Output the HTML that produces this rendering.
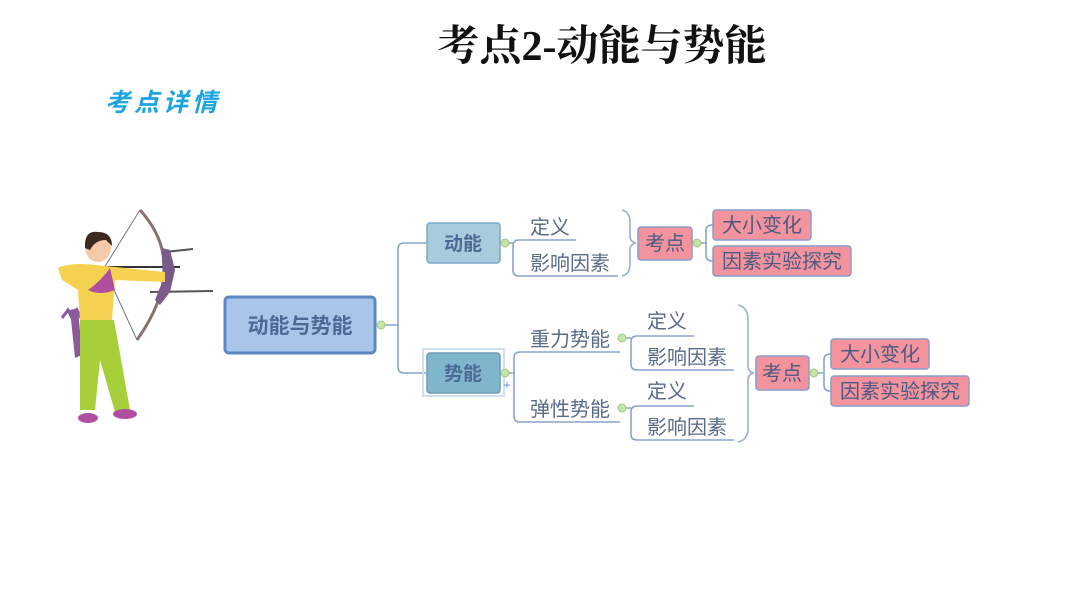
<!DOCTYPE html>
<html><head><meta charset="utf-8"><style>
html,body{margin:0;padding:0;background:#fff;}
svg text{font-family:"Liberation Sans","Noto Sans CJK SC",sans-serif;}
</style></head><body>
<svg width="1066" height="600" viewBox="0 0 1066 600" xmlns="http://www.w3.org/2000/svg">
<rect width="1066" height="600" fill="#fff"/>
<text x="602" y="60" text-anchor="middle" font-size="42" font-weight="bold" fill="#111" style="font-family:'Liberation Serif','Noto Serif CJK SC',serif">考点2-动能与势能</text>
<text x="105" y="111" font-size="25" font-weight="bold" fill="#1ba3e2" font-style="italic" letter-spacing="4">考点详情</text>

<!-- archer -->
<g>
<path d="M140,210 Q190,265 137,340" fill="none" stroke="#8a7070" stroke-width="3"/>
<line x1="140" y1="210" x2="104" y2="268" stroke="#777" stroke-width="1"/>
<line x1="104" y1="268" x2="137" y2="340" stroke="#777" stroke-width="1"/>
<line x1="100" y1="267" x2="180" y2="267" stroke="#333" stroke-width="2"/>
<line x1="165" y1="252" x2="193" y2="249" stroke="#555" stroke-width="2"/>
<line x1="150" y1="292" x2="213" y2="291" stroke="#555" stroke-width="2"/>
<path d="M162,248 L170,250 L175,270 L170,292 L160,305 L155,300 L163,280 L162,260Z" fill="#7a5a8a"/>
<path d="M70,310 L78,308 L82,355 L75,358Z" fill="#8a5a9a"/>
<path d="M62,318 l6,-8 l4,8 l5,-8 l4,8" stroke="#8a5a9a" stroke-width="3" fill="none"/>
<ellipse cx="98" cy="247" rx="13" ry="15" fill="#f3c9a8"/>
<path d="M85,248 Q84,230 98,232 Q112,232 112,246 L106,240 Q95,240 90,250Z" fill="#3a2a20"/>
<path d="M58,268 Q70,262 95,265 L165,272 L165,282 L115,280 L112,320 L80,320 L78,290 L62,280Z" fill="#f4d250"/>
<path d="M88,290 Q100,282 110,268 L115,290 Q100,296 88,290Z" fill="#b04f9f"/>
<path d="M80,320 L114,320 L130,410 L115,412 L100,360 L95,410 L80,410Z" fill="#a6cf3a"/>
<ellipse cx="88" cy="418" rx="10" ry="5" fill="#b04f9f"/>
<ellipse cx="125" cy="414" rx="12" ry="5" fill="#b04f9f"/>
</g>

<g fill="none" stroke="#8aa4cc" stroke-width="1.6">
<path d="M385,325 H398 M427,243 H404 Q398,243 398,249 V367 Q398,373 404,373 H427"/>
<path d="M509,243 H513 M576,240 H519 Q513,240 513,246 V270 Q513,276 519,276 H618"/>
<path d="M622,210 Q630,212 630,222 V236 Q630,242 636,243 Q630,244 630,250 V264 Q630,274 622,276" stroke="#9ab0d0"/>
<path d="M701,243 H706 M713,225 H712 Q706,225 706,231 V255 Q706,261 712,261 H713"/>
<path d="M509,373 H514 M620,352 H520 Q514,352 514,358 V416 Q514,422 520,422 H620"/>
<path d="M626,338 H631 M694,336 H637 Q631,336 631,342 V364 Q631,370 637,370 H734"/>
<path d="M626,408 H631 M694,406 H637 Q631,406 631,412 V434 Q631,440 637,440 H734"/>
<path d="M738,305 Q748,307 748,320 V366 Q748,372 754,373 Q748,374 748,380 V428 Q748,440 738,442" stroke="#9ab0d0"/>
<path d="M818,373 H824 M831,354 H830 Q824,354 824,360 V385 Q824,391 830,391 H831"/>
</g>

<rect x="225" y="297" width="150" height="56" rx="4" fill="#a9c6ea" stroke="#5b86c0" stroke-width="3"/>
<text x="300" y="333" text-anchor="middle" font-size="21" font-weight="bold" fill="#4d6a96">动能与势能</text>
<circle cx="381" cy="325" r="4" fill="#c6e3a8" stroke="#9fc880"/>

<rect x="427" y="223" width="73" height="40" rx="3" fill="#a8ccdd" stroke="#7ba9c8" stroke-width="1.5"/>
<text x="463" y="250" text-anchor="middle" font-size="19" font-weight="bold" fill="#4d6a96">动能</text>
<circle cx="505" cy="243" r="4" fill="#c6e3a8" stroke="#9fc880"/>

<rect x="423" y="349" width="81" height="47" fill="none" stroke="#cfe0f2" stroke-width="2"/>
<rect x="427" y="353" width="73" height="40" rx="3" fill="#7fb6cc" stroke="#6a9cb8" stroke-width="1.5"/>
<text x="463" y="380" text-anchor="middle" font-size="19" font-weight="bold" fill="#4d6a96">势能</text>
<circle cx="505" cy="373" r="4" fill="#c6e3a8" stroke="#9fc880"/>
<text x="507" y="389" text-anchor="middle" font-size="12" fill="#6a7ee0">+</text>

<g font-size="20" fill="#5a6b88">
<text x="530" y="234">定义</text>
<text x="530" y="270">影响因素</text>
<text x="530" y="346">重力势能</text>
<text x="530" y="416">弹性势能</text>
<text x="647" y="328">定义</text>
<text x="647" y="364">影响因素</text>
<text x="647" y="398">定义</text>
<text x="647" y="434">影响因素</text>
</g>
<circle cx="622" cy="338" r="4" fill="#c6e3a8" stroke="#9fc880"/>
<circle cx="622" cy="408" r="4" fill="#c6e3a8" stroke="#9fc880"/>

<g stroke="#8a9cc8" stroke-width="1.5" fill="#f2939e">
<rect x="638" y="227" width="54" height="33" rx="3"/>
<rect x="713" y="210" width="98" height="30" rx="3"/>
<rect x="713" y="246" width="138" height="30" rx="3"/>
<rect x="756" y="356" width="53" height="34" rx="3"/>
<rect x="831" y="339" width="98" height="30" rx="3"/>
<rect x="831" y="376" width="138" height="30" rx="3"/>
</g>
<circle cx="697" cy="243" r="4" fill="#c6e3a8" stroke="#9fc880"/>
<circle cx="814" cy="373" r="4" fill="#c6e3a8" stroke="#9fc880"/>
<g font-size="20" fill="#4d5a80">
<text x="665" y="250" text-anchor="middle">考点</text>
<text x="762" y="232" text-anchor="middle">大小变化</text>
<text x="782" y="268" text-anchor="middle">因素实验探究</text>
<text x="782" y="380" text-anchor="middle">考点</text>
<text x="880" y="361" text-anchor="middle">大小变化</text>
<text x="900" y="398" text-anchor="middle">因素实验探究</text>
</g>
</svg>
</body></html>
